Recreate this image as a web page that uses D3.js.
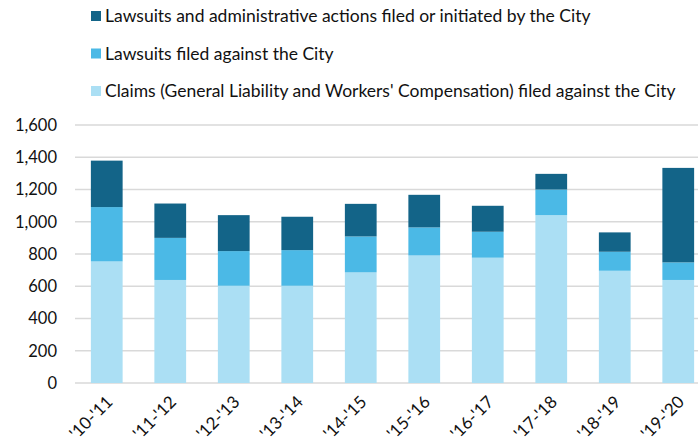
<!DOCTYPE html>
<html>
<head>
<meta charset="utf-8">
<script src="https://cdn.jsdelivr.net/npm/d3@7"></script>
<style>
  body { margin: 0; background: #fff; }
  text { font-family: Lato, "Open Sans", sans-serif; fill: #111; }
</style>
</head>
<body>
<div id="chart"></div>
<script>
// fiscal years
const years = ["'10-'11", "'11-'12", "'12-'13", "'13-'14", "'14-'15", "'15-'16", "'16-'17", "'17-'18", "'18-'19", "'19-'20"];

// series values (stack order bottom -> top)
const claims = [754, 639, 603, 603, 686, 791, 777, 1041, 696, 639];
const lawsuitsAgainst = [337, 261, 215, 221, 223, 174, 161, 159, 118, 109];
const lawsuitsByCity = [288, 213, 223, 207, 202, 202, 161, 97, 120, 586];

const yTicks = [0, 200, 400, 600, 800, 1000, 1200, 1400, 1600];

const seriesNames = [
    "Claims (General Liability and Workers' Compensation) filed against the City",
    "Lawsuits filed against the City",
    "Lawsuits and administrative actions filed or initiated by the City"
];
const colors = ["#abdff4", "#4bb9e6", "#136488"];

const width = 698,
      height = 444,
      margin = ({ top: 125, right: -12, bottom: 61, left: 75 });

let svg = d3.select("#chart")
    .append("svg")
    .attr("width", width)
    .attr("height", height);

// build table for stack
let data = years.map((y, i) => ({ year: y, s0: claims[i], s1: lawsuitsAgainst[i], s2: lawsuitsByCity[i] }));
let stacked = d3.stack().keys(["s0", "s1", "s2"])(data);

let x = d3.scaleBand()
    .domain(years)
    .range([margin.left, width - margin.right])
    .paddingInner(0.5)
    .paddingOuter(0.25);

let y = d3.scaleLinear()
    .domain([0, 1600])
    .range([height - margin.bottom, margin.top]);

// gridlines
svg.append("g")
    .selectAll("line")
    .data(yTicks)
    .join("line")
    .attr("x1", margin.left)
    .attr("x2", width)
    .attr("y1", d => y(d))
    .attr("y2", d => y(d))
    .attr("stroke", "#d9d9d9")
    .attr("stroke-width", 1.5);

// y axis labels
let yAxis = svg.append("g")
    .attr("transform", `translate(${margin.left - 18},0)`)
    .call(d3.axisLeft(y).tickValues(yTicks).tickSize(0).tickFormat(d3.format(",")));
yAxis.select(".domain").remove();
yAxis.selectAll("text")
    .attr("x", 0)
    .style("font-family", "Lato, sans-serif")
    .style("font-size", "16.5px")
    .attr("fill", "#111");

// bars
svg.append("g")
    .selectAll("g")
    .data(stacked)
    .join("g")
    .attr("fill", (d, i) => colors[i])
    .selectAll("rect")
    .data(d => d)
    .join("rect")
    .attr("x", d => x(d.data.year))
    .attr("width", x.bandwidth())
    .attr("y", d => y(d[1]))
    .attr("height", d => y(d[0]) - y(d[1]));

// x axis labels
let xAxis = svg.append("g")
    .attr("transform", `translate(0, ${height - margin.bottom})`)
    .call(d3.axisBottom(x).tickSize(0));
xAxis.select(".domain").remove();
xAxis.selectAll("text")
    .attr("text-anchor", "end")
    .attr("dy", "0")
    .attr("transform", "translate(7,20) rotate(-45)")
    .attr("y", 0)
    .style("font-family", "Lato, sans-serif")
    .style("font-size", "17px")
    .attr("fill", "#111");

// legend (top entry = top of stack)
let legend = svg.append("g")
    .selectAll("g")
    .data([2, 1, 0])
    .join("g")
    .attr("transform", (d, i) => `translate(91, ${16 + i * 37.5})`);

legend.append("rect")
    .attr("x", 0)
    .attr("y", -5)
    .attr("width", 10)
    .attr("height", 10)
    .attr("fill", d => colors[d]);

legend.append("text")
    .attr("x", 14)
    .attr("y", 0)
    .attr("dy", "0.35em")
    .style("font-size", "17.5px")
    .text(d => seriesNames[d]);
</script>
</body>
</html>
